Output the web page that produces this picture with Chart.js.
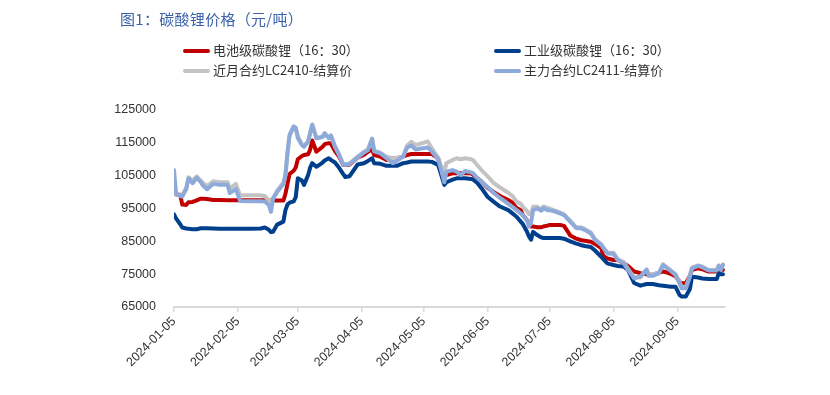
<!DOCTYPE html>
<html>
<head>
<meta charset="utf-8">
<script src="https://cdn.jsdelivr.net/npm/chart.js@4.4.1/dist/chart.umd.min.js"></script>
<style>
  body { margin: 0; background: #fff; }
  #wrap { position: relative; width: 830px; height: 395px; }
  #chart { position: absolute; left: 0; top: 0; }
  .title { position: absolute; left: 120px; top: 8px; font: 15px "Noto Sans CJK SC", sans-serif; color: #3a62aa; white-space: nowrap; letter-spacing: 0.3px; }
  .item { position: absolute; font: 13px "Noto Sans CJK SC", sans-serif; color: #333; white-space: nowrap; line-height: 18px; }
  .item i { display: inline-block; width: 27px; height: 4px; margin-right: 3px; vertical-align: middle; border-radius: 2px; }
</style>
</head>
<body>
<div id="wrap">
  <canvas id="chart" width="830" height="395"></canvas>
  <div class="title">图1：碳酸锂价格（元/吨）</div>
  <div class="item" style="left:183px;top:41px"><i style="background:#c00000"></i>电池级碳酸锂（16：30）</div>
  <div class="item" style="left:494px;top:41px"><i style="background:#003f8c"></i>工业级碳酸锂（16：30）</div>
  <div class="item" style="left:183px;top:61px"><i style="background:#c3c3c3"></i>近月合约LC2410-结算价</div>
  <div class="item" style="left:494px;top:61px"><i style="background:#8eaadb"></i>主力合约LC2411-结算价</div>
</div>
<script>
const dates = [
  "2024-01-05","2024-01-06","2024-01-08","2024-01-09","2024-01-11","2024-01-12","2024-01-14","2024-01-16","2024-01-18","2024-01-19",
  "2024-01-21","2024-01-24","2024-01-27","2024-01-31","2024-02-01","2024-02-04","2024-02-06","2024-02-11","2024-02-16","2024-02-18",
  "2024-02-20","2024-02-21","2024-02-22","2024-02-24","2024-02-27","2024-02-28","2024-02-29","2024-03-01","2024-03-03","2024-03-04",
  "2024-03-05","2024-03-07","2024-03-08","2024-03-10","2024-03-11","2024-03-12","2024-03-14","2024-03-17","2024-03-18","2024-03-20",
  "2024-03-21","2024-03-23","2024-03-25","2024-03-27","2024-03-28","2024-03-30","2024-04-03","2024-04-06","2024-04-08","2024-04-10",
  "2024-04-11","2024-04-14","2024-04-17","2024-04-20","2024-04-22","2024-04-25","2024-04-27","2024-04-29","2024-05-01","2024-05-03",
  "2024-05-07","2024-05-09","2024-05-12","2024-05-13","2024-05-15","2024-05-16","2024-05-19","2024-05-21","2024-05-23","2024-05-25",
  "2024-05-28","2024-05-29","2024-05-31","2024-06-02","2024-06-05","2024-06-08","2024-06-11","2024-06-15","2024-06-17","2024-06-19",
  "2024-06-21","2024-06-22","2024-06-24","2024-06-25","2024-06-26","2024-06-27","2024-06-29","2024-07-01","2024-07-02","2024-07-04",
  "2024-07-05","2024-07-08","2024-07-10","2024-07-12","2024-07-15","2024-07-18","2024-07-20","2024-07-22","2024-07-25","2024-07-27",
  "2024-07-30","2024-07-31","2024-08-02","2024-08-05","2024-08-07","2024-08-10","2024-08-12","2024-08-15","2024-08-18","2024-08-21",
  "2024-08-22","2024-08-24","2024-08-27","2024-08-29","2024-08-31","2024-09-02","2024-09-04","2024-09-06","2024-09-07","2024-09-09",
  "2024-09-11","2024-09-12","2024-09-15","2024-09-17","2024-09-20","2024-09-22","2024-09-24","2024-09-25","2024-09-26","2024-09-27"
];

// 电池级碳酸锂（16：30）
const batteryGrade = [
  99400, 99300, 99200, 96200, 96100, 96900, 97000, 97500, 98000, 98000,
  97900, 97600, 97600, 97500, 97500, 97500, 97500, 97500, 97500, 97500,
  97400, 97400, 97400, 97400, 97400, 99500, 102500, 105500, 106500, 107500,
  110000, 111000, 111300, 111500, 113000, 115700, 112300, 113800, 114600, 114900,
  114800, 112500, 110800, 108300, 108300, 108300, 110500, 111300, 112300, 113000,
  111300, 110800, 109800, 110200, 110300, 110800, 111300, 111600, 111600, 111600,
  111600, 111600, 110300, 107700, 104700, 105200, 105700, 105700, 105700, 105700,
  105700, 105200, 104200, 103200, 101300, 100000, 98800, 97600, 96800, 95100,
  94500, 93000, 91500, 90500, 89500, 89500, 89300, 89300, 89500, 89800,
  90000, 90000, 90000, 89700, 86800, 85800, 85400, 85200, 84900, 84200,
  82900, 80500, 79800, 79300, 79300, 78300, 77500, 75800, 75300, 75000,
  74800, 74800, 75500, 75800, 75500, 75000, 74400, 72700, 72200, 72200,
  74500, 76300, 76800, 76500, 75800, 75800, 75800, 76300, 76500, 76300
];

// 工业级碳酸锂（16：30）
const industrialGrade = [
  93200, 92000, 90200, 89200, 88900, 88800, 88700, 88700, 89000, 89000,
  89000, 88900, 88800, 88800, 88800, 88800, 88800, 88800, 88900, 89200,
  88500, 87800, 87900, 90100, 91000, 94500, 96200, 96800, 97200, 98500,
  104200, 103500, 102200, 105200, 107500, 108800, 107700, 109000, 109600, 110300,
  109800, 109000, 107400, 105500, 104600, 104800, 108400, 108800, 109500, 110300,
  108800, 108600, 108000, 108000, 108000, 108800, 109000, 109300, 109300, 109300,
  109300, 109200, 108300, 106200, 102200, 103000, 103800, 104200, 104200, 104200,
  104000, 103800, 102800, 101200, 98500, 97000, 95600, 94500, 93500, 92500,
  91000, 90300, 88000, 86500, 85500, 87900, 86900, 86200, 86000, 86000,
  86000, 86000, 86000, 85800, 85000, 84300, 83900, 83600, 83300, 82200,
  80300, 79600, 78300, 77800, 77500, 77300, 76300, 72300, 71500, 72000,
  72000, 72000, 71600, 71500, 71300, 71200, 71200, 68600, 68200, 68200,
  70500, 74200, 74000, 73700, 73500, 73500, 73500, 75300, 75000, 75000
];

// 近月合约LC2410-结算价
const nearMonth = [
  99500, 99300, 99000, 99000, 101500, 104500, 103500, 104800, 103500, 102800,
  101800, 103300, 103000, 103000, 101000, 102500, 99000, 99000, 99000, 98800,
  97500, 96500, 98300, 100500, 102800, 105500, 112000, 117000, 119800, 119600,
  117000, 114500, 114000, 115500, 118000, 120600, 116400, 116900, 117900, 116500,
  117300, 114000, 111500, 108600, 108500, 108700, 110800, 112300, 113000, 116300,
  112600, 112000, 110800, 110300, 110500, 110800, 114200, 115300, 114300, 114700,
  115400, 113300, 110500, 108500, 106200, 108800, 109800, 110300, 110000, 110300,
  110000, 109700, 108200, 106700, 104800, 102700, 101400, 99800, 98800, 97100,
  96500, 95500, 94300, 93300, 93500, 95500, 95500, 94800, 95600, 95200,
  95000, 94300, 93800, 93200, 91300, 89200, 89300, 88800, 87700, 85700,
  84200, 83200, 81600, 81500, 79600, 78600, 76600, 74000, 74000, 76500,
  75000, 75000, 75500, 78000, 77000, 76000, 75000, 72500, 71000, 71000,
  74500, 77000, 77700, 77300, 76300, 76300, 76300, 77700, 76500, 78000
];

// 主力合约LC2411-结算价
const mainContract = [
  106700, 99500, 98800, 98600, 101000, 104200, 102700, 104300, 103000, 102000,
  100900, 102500, 102200, 102200, 99700, 100900, 97300, 97200, 97200, 97100,
  96000, 94000, 98000, 100000, 102500, 105000, 112000, 117500, 120000, 119500,
  116500, 114300, 113800, 115400, 118000, 120500, 116400, 116800, 117900, 116400,
  117200, 113800, 111300, 108300, 108300, 108500, 110500, 112000, 112800, 116200,
  112400, 111800, 110300, 108800, 109500, 110800, 113600, 114200, 113000, 113200,
  113600, 112300, 110000, 107700, 103000, 106200, 106700, 106200, 105200, 106400,
  106000, 105700, 104200, 103200, 101500, 99700, 98200, 96400, 95500, 94500,
  93500, 93000, 91500, 89500, 90500, 94500, 95000, 94300, 95100, 94500,
  94500, 94000, 93500, 93000, 91000, 89000, 89000, 88500, 87400, 85400,
  83900, 83000, 81300, 81200, 79300, 78300, 76300, 73700, 74300, 76300,
  74500, 74500, 75300, 77800, 76800, 75800, 74800, 72200, 70700, 70700,
  74200, 76800, 77500, 77100, 76100, 76100, 76100, 77500, 76300, 77800
];

const tickDates = ["2024-01-05","2024-02-05","2024-03-05","2024-04-05","2024-05-05",
                   "2024-06-05","2024-07-05","2024-08-05","2024-09-05"];
const axisEnd = "2024-09-28";

const DAY = 86400000;
const t0 = Date.parse(dates[0]);
const toDay = s => (Date.parse(s) - t0) / DAY;
const pts = vals => vals.map((v, i) => ({ x: toDay(dates[i]), y: v }));

const FONT = { family: "'Liberation Sans', Arial, sans-serif", size: 12.5 };

function line(label, vals, color, order) {
  return {
    label: label,
    data: pts(vals),
    borderColor: color,
    backgroundColor: color,
    borderWidth: 4,
    pointRadius: 0,
    tension: 0,
    borderJoinStyle: "round",
    borderCapStyle: "round",
    order: order,
  };
}

const config = {
  type: "line",
  data: {
    datasets: [
      line("电池级碳酸锂（16：30）", batteryGrade, "#c00000", 3),
      line("工业级碳酸锂（16：30）", industrialGrade, "#003f8c", 2),
      line("近月合约LC2410-结算价", nearMonth, "#c3c3c3", 1),
      line("主力合约LC2411-结算价", mainContract, "#8eaadb", 0),
    ],
  },
  options: {
    responsive: false,
    animation: false,
    layout: { padding: { top: 110, left: 0, right: 105, bottom: 0 } },
    plugins: { legend: { display: false }, tooltip: { enabled: false } },
    scales: {
      x: {
        type: "linear",
        min: 0,
        max: toDay(axisEnd),
        afterBuildTicks: s => { s.ticks = tickDates.map(d => ({ value: toDay(d) })); },
        afterFit: s => { s.height = 88; },
        grid: { display: true, drawOnChartArea: false, drawTicks: true, tickLength: 5, color: "#d9d9d9", lineWidth: 1.5 },
        border: { display: true, color: "#d9d9d9", width: 2 },
        ticks: {
          autoSkip: false,
          minRotation: 45,
          maxRotation: 45,
          padding: 2,
          color: "#333",
          font: FONT,
          callback: (v, i) => tickDates[i],
        },
      },
      y: {
        min: 65000,
        max: 125000,
        afterFit: s => { s.width = 174; },
        grid: { display: false },
        border: { display: false },
        ticks: {
          stepSize: 10000,
          padding: 10,
          color: "#333",
          font: FONT,
          callback: v => String(v),
        },
      },
    },
  },
};

new Chart(document.getElementById("chart").getContext("2d"), config);
</script>
</body>
</html>
